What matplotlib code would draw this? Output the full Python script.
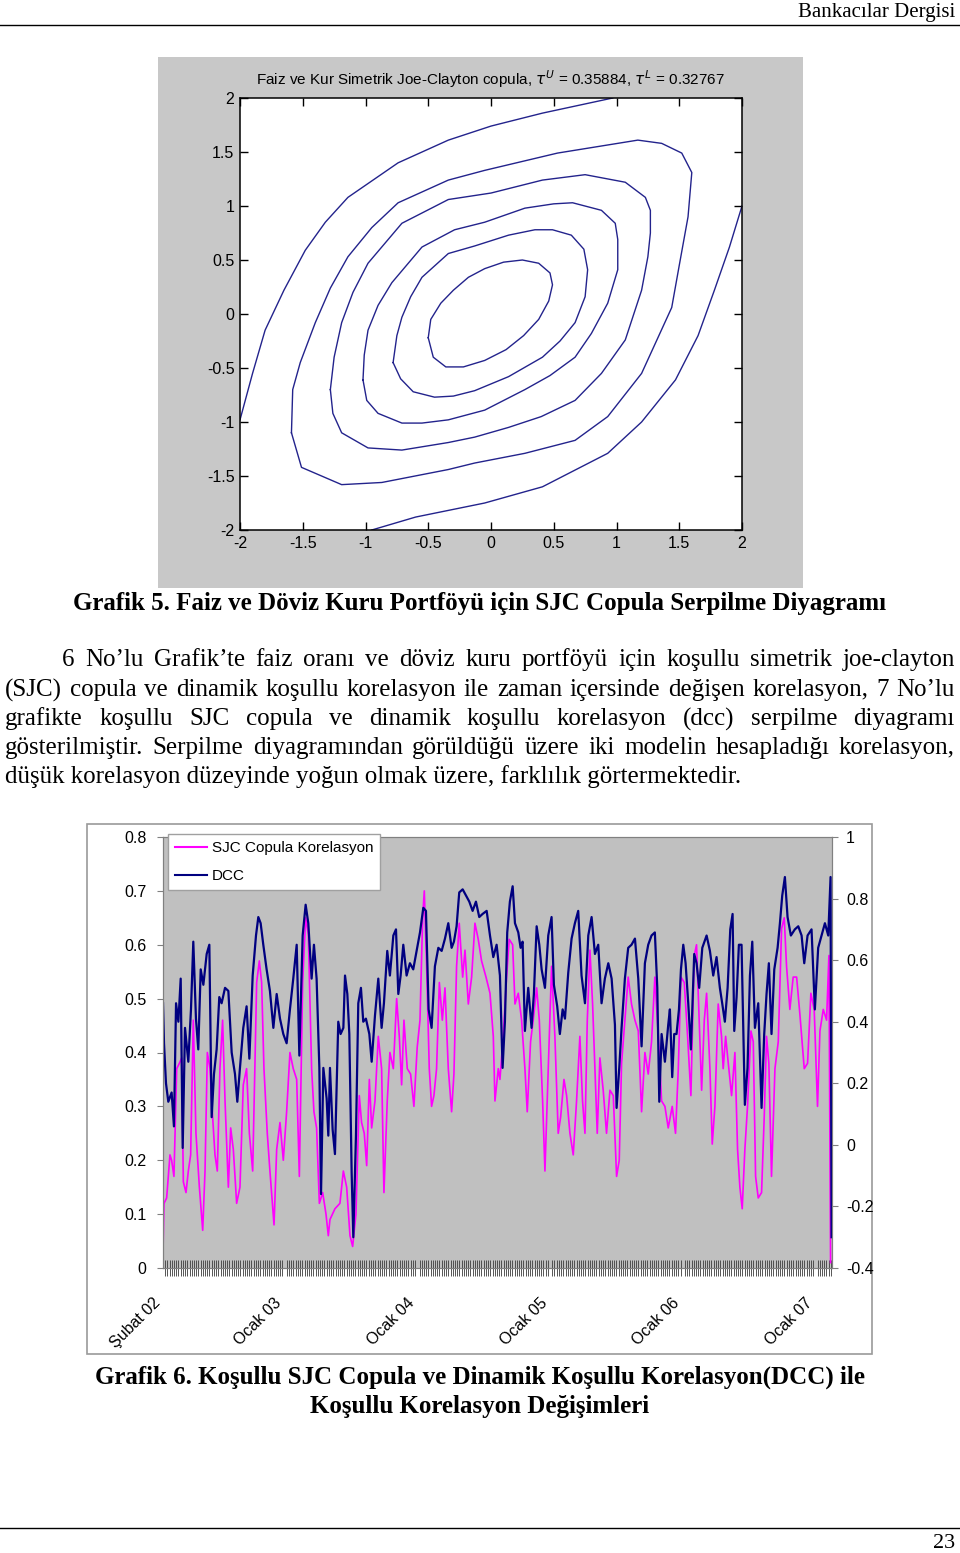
import numpy as np
import matplotlib
matplotlib.use("Agg")
import matplotlib.pyplot as plt
from matplotlib.patches import Rectangle
from matplotlib.lines import Line2D
from matplotlib.ticker import MultipleLocator, FuncFormatter

W, H = 960, 1553

# ---- Grafik 5: contour lines of the SJC copula density
c1 = [(-0.50, -0.22), (-0.48, -0.05), (-0.40, 0.10), (-0.30, 0.22), (-0.18, 0.34),
      (-0.05, 0.42), (0.10, 0.48), (0.25, 0.50), (0.38, 0.47), (0.47, 0.38),
      (0.49, 0.27), (0.46, 0.12), (0.38, -0.05), (0.26, -0.20), (0.12, -0.33),
      (-0.05, -0.43), (-0.22, -0.49), (-0.36, -0.49), (-0.46, -0.40), (-0.50, -0.22)]
c2 = [(-0.78, -0.45), (-0.75, -0.20), (-0.71, -0.03), (-0.64, 0.16), (-0.55, 0.34),
      (-0.34, 0.56), (-0.13, 0.63), (0.14, 0.73), (0.35, 0.78), (0.49, 0.78),
      (0.64, 0.73), (0.74, 0.60), (0.77, 0.41), (0.75, 0.16), (0.67, -0.08),
      (0.55, -0.25), (0.41, -0.40), (0.14, -0.58), (-0.13, -0.71), (-0.30, -0.76),
      (-0.45, -0.77), (-0.62, -0.72), (-0.72, -0.60), (-0.78, -0.45)]
c3 = [(-1.02, -0.61), (-1.01, -0.38), (-0.98, -0.15), (-0.90, 0.08), (-0.79, 0.29),
      (-0.55, 0.62), (-0.29, 0.78), (-0.05, 0.85), (0.27, 0.98), (0.50, 1.02),
      (0.65, 1.03), (0.88, 0.96), (0.99, 0.84), (1.01, 0.69), (1.01, 0.41),
      (0.93, 0.10), (0.80, -0.18), (0.67, -0.40), (0.47, -0.57), (0.27, -0.70),
      (-0.05, -0.89), (-0.34, -0.98), (-0.55, -1.01), (-0.71, -1.01), (-0.90, -0.92),
      (-0.99, -0.80), (-1.02, -0.61)]
c4 = [(-1.28, -0.70), (-1.25, -0.40), (-1.19, -0.08), (-1.10, 0.20), (-0.98, 0.47),
      (-0.71, 0.84), (-0.34, 1.06), (0.00, 1.12), (0.41, 1.24), (0.75, 1.29),
      (1.07, 1.22), (1.23, 1.08), (1.27, 0.96), (1.27, 0.75), (1.25, 0.53),
      (1.20, 0.22), (1.07, -0.24), (0.88, -0.55), (0.67, -0.80), (0.40, -0.95),
      (0.14, -1.05), (-0.13, -1.14), (-0.34, -1.19), (-0.71, -1.26), (-0.98, -1.24),
      (-1.19, -1.10), (-1.26, -0.92), (-1.28, -0.70)]
c5 = [(-1.59, -1.10), (-1.58, -0.70), (-1.52, -0.45), (-1.40, -0.08), (-1.28, 0.24),
      (-1.14, 0.53), (-0.95, 0.80), (-0.74, 1.03), (-0.34, 1.24), (-0.05, 1.33),
      (0.53, 1.49), (1.17, 1.61), (1.36, 1.58), (1.52, 1.49), (1.60, 1.31),
      (1.57, 0.90), (1.50, 0.45), (1.44, 0.06), (1.20, -0.55), (0.93, -0.95),
      (0.67, -1.17), (0.27, -1.29), (-0.13, -1.38), (-0.34, -1.44), (-0.87, -1.56),
      (-1.19, -1.58), (-1.51, -1.42), (-1.59, -1.10)]
c6_upper = [(-2.00, -0.98), (-1.90, -0.55), (-1.80, -0.15), (-1.65, 0.22), (-1.48, 0.59),
            (-1.32, 0.85), (-1.14, 1.08), (-0.74, 1.40), (-0.34, 1.61), (0.00, 1.74),
            (0.41, 1.86), (0.97, 2.00)]
c6_lower = [(-0.95, -2.00), (-0.60, -1.88), (-0.05, -1.75), (0.41, -1.60), (0.93, -1.29),
            (1.20, -1.00), (1.47, -0.61), (1.65, -0.20), (1.78, 0.22), (1.90, 0.62),
            (2.00, 1.00)]

# ---- Grafik 6: (months since Subat 2002, value)
sjc = [(0.00, 0.03), (0.09, 0.12), (0.33, 0.13), (0.63, 0.21), (0.78, 0.20), (0.99, 0.17),
       (1.24, 0.37), (1.48, 0.38), (1.69, 0.39), (1.84, 0.16), (2.08, 0.14), (2.29, 0.18),
       (2.50, 0.21), (2.74, 0.46), (2.98, 0.25), (3.29, 0.15), (3.59, 0.07), (3.80, 0.18),
       (4.01, 0.40), (4.25, 0.37), (4.49, 0.28), (4.70, 0.21), (4.91, 0.18), (5.15, 0.37),
       (5.39, 0.46), (5.61, 0.31), (5.91, 0.15), (6.12, 0.26), (6.36, 0.22), (6.66, 0.12),
       (6.96, 0.15), (7.26, 0.34), (7.56, 0.37), (7.81, 0.25), (8.11, 0.18), (8.47, 0.53),
       (8.71, 0.57), (8.92, 0.53), (9.13, 0.37), (9.43, 0.25), (9.67, 0.18), (10.04, 0.08),
       (10.28, 0.22), (10.58, 0.27), (10.88, 0.20), (11.18, 0.29), (11.48, 0.40), (11.78, 0.37),
       (12.09, 0.35), (12.33, 0.17), (12.63, 0.53), (12.90, 0.65), (13.14, 0.62), (13.44, 0.37),
       (13.65, 0.29), (13.89, 0.26), (14.14, 0.12), (14.44, 0.14), (14.74, 0.10), (14.95, 0.06),
       (15.10, 0.09), (15.55, 0.11), (16.00, 0.12), (16.31, 0.18), (16.61, 0.15), (16.91, 0.06),
       (17.15, 0.04), (17.45, 0.10), (17.75, 0.32), (17.96, 0.27), (18.20, 0.25), (18.42, 0.19),
       (18.66, 0.35), (18.87, 0.26), (19.17, 0.31), (19.47, 0.43), (19.77, 0.37), (19.98, 0.14),
       (20.28, 0.31), (20.52, 0.40), (20.83, 0.37), (21.13, 0.50), (21.37, 0.43), (21.58, 0.34),
       (21.79, 0.46), (22.09, 0.37), (22.39, 0.36), (22.69, 0.30), (22.99, 0.41), (23.24, 0.46),
       (23.48, 0.65), (23.63, 0.70), (23.84, 0.56), (24.08, 0.37), (24.29, 0.30), (24.50, 0.32),
       (24.74, 0.37), (24.99, 0.53), (25.26, 0.46), (25.50, 0.52), (25.80, 0.37), (26.10, 0.29),
       (26.31, 0.36), (26.55, 0.56), (26.79, 0.64), (27.10, 0.54), (27.31, 0.59), (27.61, 0.49),
       (27.91, 0.54), (28.21, 0.64), (28.51, 0.61), (28.81, 0.57), (29.21, 0.54), (29.57, 0.51),
       (29.87, 0.43), (30.02, 0.31), (30.32, 0.37),
       (30.47, 0.35), (30.77, 0.43), (31.07, 0.54), (31.31, 0.61), (31.62, 0.60), (31.83, 0.49),
       (32.13, 0.51), (32.43, 0.46), (32.73, 0.37), (32.94, 0.29), (33.24, 0.42), (33.48, 0.46),
       (33.79, 0.52), (34.03, 0.46), (34.33, 0.31), (34.54, 0.18), (34.84, 0.37), (35.14, 0.56),
       (35.44, 0.43), (35.74, 0.25), (35.96, 0.28), (36.26, 0.35), (36.50, 0.32), (36.80, 0.25),
       (37.10, 0.21), (37.40, 0.31), (37.70, 0.43), (37.94, 0.31), (38.16, 0.25), (38.37, 0.46),
       (38.61, 0.59), (38.85, 0.49), (39.06, 0.37), (39.27, 0.25), (39.51, 0.39), (39.81, 0.33),
       (40.11, 0.25), (40.42, 0.33), (40.72, 0.32), (41.02, 0.17), (41.26, 0.20), (41.47, 0.38),
       (41.77, 0.46), (42.07, 0.54), (42.37, 0.49), (42.68, 0.46), (42.98, 0.44), (43.28, 0.29),
       (43.58, 0.40), (43.88, 0.36), (44.18, 0.42), (44.48, 0.54), (44.79, 0.43), (45.09, 0.31),
       (45.39, 0.30), (45.69, 0.26), (46.05, 0.30), (46.35, 0.25), (46.60, 0.37), (46.84, 0.54),
       (47.14, 0.53), (47.44, 0.43), (47.74, 0.32), (48.04, 0.58), (48.25, 0.60), (48.49, 0.46),
       (48.71, 0.33), (48.95, 0.46), (49.16, 0.51), (49.46, 0.37), (49.67, 0.23), (49.91, 0.30),
       (50.21, 0.49), (50.51, 0.43), (50.66, 0.37), (50.88, 0.43), (51.12, 0.38), (51.42, 0.32),
       (51.72, 0.40), (51.96, 0.22), (52.17, 0.15), (52.38, 0.11), (52.62, 0.22), (52.86, 0.30),
       (53.17, 0.44), (53.38, 0.42), (53.59, 0.17), (53.83, 0.13), (54.13, 0.14), (54.37, 0.28),
       (54.58, 0.43), (54.79, 0.38), (55.03, 0.17), (55.34, 0.37), (55.64, 0.42), (55.94, 0.63),
       (56.18, 0.65), (56.39, 0.56), (56.69, 0.48), (56.99, 0.54), (57.30, 0.54), (57.60, 0.47),
       (57.99, 0.37), (58.29, 0.38), (58.59, 0.51), (58.89, 0.48), (59.19, 0.30), (59.41, 0.44),
       (59.71, 0.48), (60.01, 0.46), (60.22, 0.58), (60.37, 0.01)]

dcc = [(0.00, 0.46), (0.09, 0.33), (0.27, 0.20), (0.48, 0.14), (0.78, 0.17), (0.99, 0.06),
       (1.18, 0.46), (1.39, 0.40), (1.60, 0.54), (1.78, -0.01), (1.99, 0.38), (2.29, 0.27),
       (2.53, 0.44), (2.74, 0.66), (2.98, 0.41), (3.19, 0.31), (3.41, 0.57), (3.65, 0.52),
       (3.95, 0.62), (4.19, 0.65), (4.40, 0.09), (4.61, 0.23), (4.85, 0.31), (5.09, 0.48),
       (5.30, 0.46), (5.61, 0.51), (5.91, 0.50), (6.21, 0.30), (6.51, 0.23), (6.72, 0.14),
       (6.96, 0.25), (7.26, 0.38), (7.56, 0.45), (7.81, 0.28), (8.11, 0.55), (8.41, 0.68),
       (8.62, 0.74), (8.83, 0.72), (9.07, 0.65), (9.37, 0.57), (9.67, 0.50), (9.98, 0.38),
       (10.28, 0.49), (10.58, 0.41), (10.88, 0.36), (11.18, 0.33), (11.48, 0.44), (11.78, 0.54),
       (12.09, 0.65), (12.33, 0.29), (12.63, 0.68), (12.90, 0.78), (13.14, 0.72), (13.44, 0.54),
       (13.65, 0.65), (13.89, 0.54), (14.14, 0.25), (14.29, -0.16), (14.50, 0.25), (14.80, 0.15),
       (14.95, 0.03),
       (15.10, 0.25), (15.34, 0.05), (15.55, -0.03), (15.85, 0.40), (16.06, 0.36), (16.31, 0.38),
       (16.46, 0.55), (16.67, 0.49), (16.85, 0.36), (17.06, -0.09), (17.21, -0.30), (17.45, 0.03),
       (17.66, 0.46), (17.90, 0.51), (18.11, 0.40), (18.35, 0.41), (18.66, 0.36), (18.87, 0.27),
       (19.17, 0.42), (19.47, 0.54), (19.77, 0.38), (19.98, 0.46), (20.28, 0.63), (20.52, 0.55),
       (20.83, 0.68), (21.07, 0.70), (21.28, 0.49), (21.49, 0.55), (21.73, 0.65), (22.03, 0.55),
       (22.33, 0.59), (22.63, 0.57), (22.94, 0.63), (23.24, 0.69), (23.54, 0.77), (23.78, 0.76),
       (24.02, 0.44), (24.29, 0.38), (24.59, 0.58), (24.90, 0.64), (25.20, 0.63), (25.50, 0.67),
       (25.80, 0.72), (26.10, 0.64), (26.31, 0.66), (26.55, 0.71), (26.79, 0.82), (27.10, 0.83),
       (27.40, 0.81), (27.70, 0.79), (28.00, 0.76), (28.30, 0.79), (28.60, 0.74), (28.90, 0.75),
       (29.27, 0.76), (29.57, 0.68), (29.87, 0.61), (30.17, 0.65),
       (30.47, 0.55), (30.71, 0.25), (30.92, 0.40), (31.13, 0.69), (31.37, 0.79), (31.62, 0.84),
       (31.83, 0.72), (32.13, 0.69), (32.34, 0.64), (32.52, 0.66), (32.73, 0.37), (33.03, 0.51),
       (33.33, 0.38), (33.54, 0.49), (33.79, 0.71), (34.03, 0.65), (34.24, 0.57), (34.54, 0.51),
       (34.84, 0.68), (35.14, 0.74), (35.35, 0.52), (35.65, 0.45), (35.89, 0.36), (36.14, 0.44),
       (36.35, 0.41), (36.65, 0.56), (36.95, 0.67), (37.25, 0.72), (37.55, 0.76), (37.85, 0.55),
       (38.16, 0.46), (38.46, 0.68), (38.76, 0.74), (39.06, 0.62), (39.36, 0.65), (39.66, 0.46),
       (39.96, 0.54), (40.27, 0.59), (40.57, 0.54), (40.87, 0.39), (41.02, 0.12), (41.26, 0.25),
       (41.47, 0.38), (41.77, 0.54), (42.07, 0.64), (42.37, 0.65), (42.68, 0.67), (42.98, 0.54),
       (43.28, 0.32), (43.58, 0.59), (43.88, 0.65), (44.18, 0.68), (44.48, 0.69), (44.70, 0.51),
       (44.88, 0.14), (45.09, 0.36),
       (45.39, 0.27), (45.69, 0.39), (45.84, 0.44), (46.05, 0.22), (46.23, 0.36), (46.44, 0.36),
       (46.66, 0.44), (46.84, 0.57), (47.05, 0.65), (47.26, 0.59), (47.50, 0.46), (47.74, 0.31),
       (48.04, 0.62), (48.25, 0.59), (48.49, 0.51), (48.77, 0.64), (49.16, 0.68), (49.46, 0.63),
       (49.76, 0.55), (50.06, 0.61), (50.36, 0.51), (50.57, 0.46), (50.81, 0.40), (51.06, 0.51),
       (51.30, 0.70), (51.51, 0.75), (51.66, 0.37), (51.87, 0.48), (52.08, 0.65), (52.32, 0.65),
       (52.62, 0.13), (52.86, 0.25), (53.08, 0.55), (53.29, 0.66), (53.53, 0.38), (53.83, 0.46),
       (54.13, 0.12), (54.37, 0.36), (54.58, 0.49), (54.79, 0.59), (55.03, 0.36), (55.28, 0.57),
       (55.58, 0.64), (55.79, 0.72), (56.00, 0.81), (56.24, 0.87), (56.48, 0.74), (56.78, 0.68),
       (57.14, 0.70), (57.45, 0.71), (57.75, 0.68), (57.99, 0.59), (58.29, 0.68), (58.65, 0.70),
       (58.95, 0.44), (59.25, 0.64), (59.56, 0.68), (59.86, 0.72), (60.16, 0.68), (60.37, 0.87),
       (60.46, -0.30)]

date_ticks = [0, 11, 23, 35, 47, 59]
date_labels = ["Şubat 02", "Ocak 03", "Ocak 04", "Ocak 05", "Ocak 06", "Ocak 07"]

para_lines = [
    "6 No’lu Grafik’te faiz oranı ve döviz kuru portföyü için koşullu simetrik joe-clayton",
    "(SJC) copula ve dinamik koşullu korelasyon ile zaman içersinde değişen korelasyon, 7 No’lu",
    "grafikte koşullu SJC copula ve dinamik koşullu korelasyon (dcc) serpilme diyagramı",
    "gösterilmiştir. Serpilme diyagramından görüldüğü üzere iki modelin hesapladığı korelasyon,",
    "düşük korelasyon düzeyinde yoğun olmak üzere, farklılık görtermektedir.",
]

SERIF = ["Liberation Serif", "DejaVu Serif"]
SANS = ["Liberation Sans", "DejaVu Sans"]


def fx(x):
    return x / W


def fy(y):
    return 1 - y / H


def gfmt(v, pos):
    return f"{round(v, 2) + 0:g}"


def justify(fig, text, x0, x1, y, **kw):
    r = fig.canvas.get_renderer()
    items = []
    for w in text.split():
        t = fig.text(0, fy(y), w, va="center", ha="left", **kw)
        items.append((t, t.get_window_extent(r).width))
    gap = (x1 - x0 - sum(wd for _, wd in items)) / (len(items) - 1)
    x = x0
    for t, wd in items:
        t.set_x(fx(x))
        x += wd + gap


def main():
    fig = plt.figure(figsize=(W / 100, H / 100), dpi=100)
    fig.patch.set_facecolor("white")

    # page header / footer
    fig.text(fx(955), fy(12), "Bankacılar Dergisi", ha="right", va="center",
             family=SERIF, fontsize=15)
    fig.add_artist(Line2D([0, 1], [fy(25), fy(25)], color="black", lw=1))
    fig.add_artist(Line2D([0, 1], [fy(1528), fy(1528)], color="black", lw=1))
    fig.text(fx(955), fy(1543), "23", ha="right", va="center", family=SERIF, fontsize=16)

    # ---- Grafik 5
    fig.add_artist(Rectangle((fx(158), fy(588)), 645 / W, 531 / H,
                             transform=fig.transFigure, facecolor="#c8c8c8",
                             edgecolor="none", zorder=0))
    axc = fig.add_axes([fx(240), fy(530), 502 / W, 432 / H])
    for c in [c1, c2, c3, c4, c5, c6_upper, c6_lower]:
        pts = np.array(c)
        axc.plot(pts[:, 0], pts[:, 1], color="#23238c", lw=1.0,
                 solid_joinstyle="round")
    axc.set_xlim(-2, 2)
    axc.set_ylim(-2, 2)
    axc.xaxis.set_major_locator(MultipleLocator(0.5))
    axc.yaxis.set_major_locator(MultipleLocator(0.5))
    axc.xaxis.set_major_formatter(FuncFormatter(gfmt))
    axc.yaxis.set_major_formatter(FuncFormatter(gfmt))
    axc.tick_params(direction="in", top=True, right=True, length=6, width=1,
                    labelsize=11.5, pad=4)
    for lab in axc.get_xticklabels() + axc.get_yticklabels():
        lab.set_family(SANS)
    for s in axc.spines.values():
        s.set_linewidth(1.1)
    fig.text(fx(490), fy(79),
             r"Faiz ve Kur Simetrik Joe-Clayton copula, $\tau^U$ = 0.35884, $\tau^L$ = 0.32767",
             ha="center", va="center", family=SANS, fontsize=11)

    fig.text(fx(480), fy(603),
             "Grafik 5. Faiz ve Döviz Kuru Portföyü için SJC Copula Serpilme Diyagramı",
             ha="center", va="center", family=SERIF, fontsize=18, fontweight="bold")

    # paragraph
    line_y = [660, 690, 719, 748, 777]
    justify(fig, para_lines[0], 62, 955, line_y[0], family=SERIF, fontsize=18)
    for txt, y in zip(para_lines[1:4], line_y[1:4]):
        justify(fig, txt, 5, 955, y, family=SERIF, fontsize=18)
    fig.text(fx(5), fy(line_y[4]), para_lines[4], ha="left", va="center",
             family=SERIF, fontsize=18)

    # ---- Grafik 6
    fig.add_artist(Rectangle((fx(87), fy(1354)), 785 / W, 530 / H,
                             transform=fig.transFigure, facecolor="white",
                             edgecolor="#9a9a9a", lw=1.2, zorder=0))
    ax = fig.add_axes([fx(163), fy(1268), 669 / W, 431 / H])
    ax.set_facecolor("#c0c0c0")
    s = np.array(sjc)
    d = np.array(dcc)
    ax.plot(s[:, 0], s[:, 1], color="#ff00ff", lw=1.2)
    ax.set_xlim(0, 60.5)
    ax.set_ylim(0, 0.8)
    ax.yaxis.set_major_locator(MultipleLocator(0.1))
    ax.yaxis.set_major_formatter(FuncFormatter(gfmt))
    ax.set_xticks(date_ticks)
    # anchored at the bottom-right so the rotated label ends a little left of the tick
    ax.set_xticklabels(date_labels, rotation=45, ha="right", va="bottom",
                       rotation_mode="anchor", family=SANS, fontsize=11.5)
    ax.xaxis.set_minor_locator(MultipleLocator(0.2))
    ax.tick_params(axis="x", which="major", length=0, pad=27)
    ax.tick_params(axis="x", which="minor", length=11, width=0.6,
                   color="#3c3c3c", direction="inout")
    ax.tick_params(axis="y", length=4, color="#808080", labelsize=11.5, pad=8)
    for lab in ax.get_yticklabels():
        lab.set_family(SANS)

    ax2 = ax.twinx()
    ax2.plot(d[:, 0], d[:, 1], color="#000080", lw=1.6)
    ax2.set_ylim(-0.4, 1.0)
    ax2.yaxis.set_major_locator(MultipleLocator(0.2))
    ax2.yaxis.set_major_formatter(FuncFormatter(gfmt))
    ax2.tick_params(axis="y", length=4, color="#808080", labelsize=11.5, pad=6)
    for lab in ax2.get_yticklabels():
        lab.set_family(SANS)
    for a in (ax, ax2):
        for sp in a.spines.values():
            sp.set_color("#808080")

    handles = [Line2D([], [], color="#ff00ff", lw=1.5),
               Line2D([], [], color="#000080", lw=1.5)]
    leg = ax2.legend(handles, ["SJC Copula Korelasyon", "DCC"],
                     loc="upper left", bbox_to_anchor=(fx(168), fy(834)),
                     bbox_transform=fig.transFigure, borderaxespad=0,
                     frameon=True, fancybox=False, edgecolor="#a0a0a0",
                     framealpha=1, handlelength=2.1, handletextpad=0.3,
                     borderpad=0.45, labelspacing=0.95,
                     prop={"family": SANS, "size": 11})
    leg.get_frame().set_linewidth(1.0)

    fig.text(fx(480), fy(1377),
             "Grafik 6. Koşullu SJC Copula ve Dinamik Koşullu Korelasyon(DCC) ile",
             ha="center", va="center", family=SERIF, fontsize=18, fontweight="bold")
    fig.text(fx(480), fy(1406), "Koşullu Korelasyon Değişimleri",
             ha="center", va="center", family=SERIF, fontsize=18, fontweight="bold")

    fig.savefig("out.png", dpi=100)


if __name__ == "__main__":
    main()
